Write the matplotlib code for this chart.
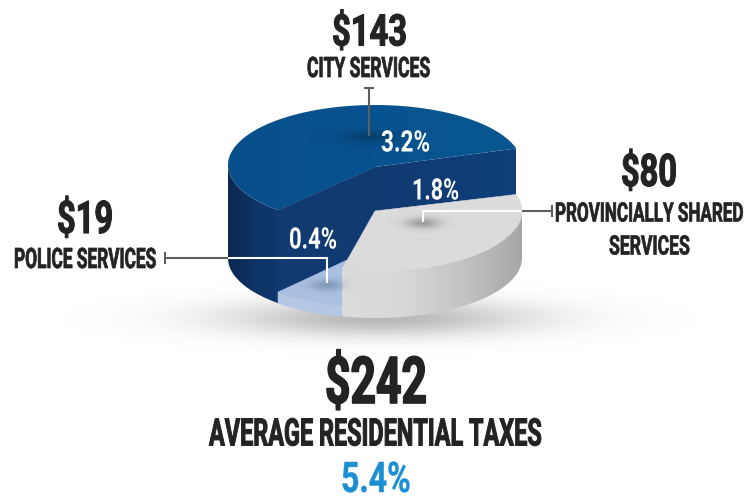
import numpy as np
import matplotlib
matplotlib.use("Agg")
import matplotlib.pyplot as plt
from matplotlib.colors import LinearSegmentedColormap, to_rgb
from matplotlib.patches import Polygon
from matplotlib.patheffects import AbstractPathEffect
from matplotlib.transforms import Affine2D

# ---- data ----
categories = ["CITY SERVICES", "PROVINCIALLY SHARED\nSERVICES", "POLICE SERVICES"]
amounts = [143, 80, 19]
percents = ["3.2%", "1.8%", "0.4%"]
total_amount = "$242"
total_label = "AVERAGE RESIDENTIAL TAXES"
total_percent = "5.4%"

W, H = 744, 496
fig = plt.figure(figsize=(W / 100, H / 100), dpi=100, facecolor="white")
ax = fig.add_axes([0, 0, 1, 1])
ax.set_axis_off()


class Squeeze(AbstractPathEffect):
    """Condense a text around a pivot, as the display face is condensed, and thicken it."""
    def __init__(self, sx, sy, pivot, base, stroke):
        super().__init__()
        self.sx, self.sy, self.pivot, self.base, self.stroke = sx, sy, pivot, base, stroke

    def draw_path(self, renderer, gc, tpath, affine, rgbFace=None):
        t = affine + (Affine2D().translate(-self.pivot, -self.base)
                      .scale(self.sx, self.sy).translate(self.pivot, self.base))
        gc0 = renderer.new_gc()
        gc0.copy_properties(gc)
        gc0.set_foreground(rgbFace)
        gc0.set_linewidth(self.stroke)
        renderer.draw_path(gc0, tpath, t, rgbFace)
        gc0.restore()


def label(s, xc, yc, cap, width, color="#232323", z=20, ha="center", shrink=1.0, heavy=0.026):
    """xc is the centre, left or right end of the text according to ha."""
    size = cap / 0.711 * 0.72 * shrink
    base = yc + cap / 2
    t = ax.text(xc, base, s, ha=ha, va="baseline", fontsize=size,
                family="Roboto", weight="bold", color=color, zorder=z)
    w = t.get_window_extent(fig.canvas.get_renderer()).width
    t.set_path_effects([Squeeze(width / w, 1 / shrink, xc, H - base, cap * heavy)])
    return t


# ---- pie geometry ----
CX, RX, RY = 375.0, 147.0, 60.0
FLOOR = 258.0
BLUE_H, GREY_H, LIGHT_H = 93.0, 47.0, 11.0
START = 16.0
total = sum(amounts)
sweep = [a / total * 360 for a in amounts]
g0, g1 = START, START - sweep[1]          # provincial, clockwise
l0, l1 = g1, g1 - sweep[2]                # police
b0, b1 = l1 + 360, START                  # city, counter-clockwise from start


def arc(a0, a1, cy, n=120):
    th = np.radians(np.linspace(a0, a1, n))
    return np.column_stack([CX + RX * np.cos(th), cy - RY * np.sin(th)])


def vgrad(poly, stops, x0, x1, z):
    cmap = LinearSegmentedColormap.from_list("g", stops)
    im = ax.imshow(np.linspace(0, 1, 256)[None, :], cmap=cmap, aspect="auto",
                   extent=(x0, x1, H, 0), zorder=z, interpolation="bilinear")
    im.set_clip_path(Polygon(poly, closed=True, transform=ax.transData))


def flat(poly, color, z):
    ax.add_patch(Polygon(poly, closed=True, fc=color, ec=color, lw=0.4, zorder=z))


def blob(x, y, rx, ry, color, alpha, z):
    xs = np.arange(x - 3 * rx, x + 3 * rx, 1.0)
    ys = np.arange(y - 3 * ry, y + 3 * ry, 1.0)
    X, Y = np.meshgrid(xs, ys)
    a = alpha * np.exp(-((X - x) / rx) ** 2 / 2 - ((Y - y) / ry) ** 2 / 2)
    img = np.zeros(X.shape + (4,))
    img[..., :3] = to_rgb(color)
    img[..., 3] = a
    ax.imshow(img, extent=(xs[0], xs[-1], ys[-1], ys[0]), aspect="auto", zorder=z,
              interpolation="bilinear")


# ground shadow
blob(380, 318, 105, 13, "#555555", 0.42, 1)

b_top = FLOOR - BLUE_H
g_top = FLOOR - GREY_H
l_top = FLOOR - LIGHT_H

# city: outer wall, cut walls, top
wall = np.vstack([arc(180, l1 + 360, b_top), arc(l1 + 360, 180, FLOOR)])
vgrad(wall, ["#0b2850", "#0f3467", "#113a70"], 228, 285, 3)
apex_t, apex_b = (CX, b_top + 2), (CX, FLOOR)
cut_l = np.vstack([arc(b0, b0, b_top, 1), [apex_t], [apex_b], arc(b0, b0, FLOOR, 1)])
flat(cut_l, "#113a70", 4)
cut_r = np.vstack([[apex_t], arc(START, START, b_top, 1), arc(START, START, FLOOR, 1), [apex_b]])
vgrad(cut_r, ["#113a70", "#103c75", "#0e4079"], 375, 516, 4)
top = np.vstack([[apex_t], arc(b0, b1, b_top)])
vgrad(top, ["#09508c", "#07538f", "#085790"], 228, 520, 5)

# police
wall = np.vstack([arc(l0, l1, l_top), arc(l1, l0, FLOOR)])
flat(wall, "#b4c7e3", 6)
flat(np.vstack([[(CX, l_top)], arc(l0, l1, l_top)]), "#a9c0e0", 7)

# provincial
wall = np.vstack([arc(max(g1, -180), 0, g_top), arc(0, g1, FLOOR)])
vgrad(wall, ["#dcdcdc", "#d8d8d8", "#c4c4c4", "#a6a6a6"], 342, 522, 8)
flat(np.vstack([[(CX, g_top)], arc(g0, g1, g_top)]), "#dbdbdc", 9)

# contact shadows under the leader ends
blob(369, 137, 20, 5, "#083258", 0.55, 10)
blob(423, 223, 12, 4, "#6a6a6a", 0.55, 10)
blob(327, 285, 11, 4, "#64799a", 0.55, 10)

# leaders
GRAY = "#5f5f5f"
def lead(xs, ys, c, lw=1.5, z=12):
    ax.plot(xs, ys, color=c, lw=lw, solid_capstyle="butt", solid_joinstyle="miter", zorder=z)

lead([369, 369], [88, 136], GRAY)
lead([364, 374], [88, 88], GRAY)
lead([423, 423, 522], [222, 211, 211], "white")
lead([522, 552], [211, 211], GRAY)
lead([552, 552], [205, 217], GRAY)
lead([165, 228], [258, 258], GRAY)
lead([165, 165], [252, 264], GRAY)
lead([228, 327, 327], [258, 258, 283], "white")

# texts
label(f"${amounts[0]}", 369.5, 30, 31, 75)
label(categories[0], 368.5, 67, 20, 123)
label(f"${amounts[1]}", 649, 170, 32, 56)
line1, line2 = categories[1].split("\n")
label(line1, 744, 212, 19, 189, ha="right")
label(line2, 649.5, 245, 19, 81)
label(f"${amounts[2]}", 85, 217, 32, 56)
label(categories[2], 14, 258, 20, 142, ha="left")
label(percents[0], 405.5, 141, 21, 49, color="white", heavy=0.0)
label(percents[1], 435.5, 189, 21, 47, color="white", heavy=0.0)
label(percents[2], 313, 238, 21, 48, color="white", heavy=0.0)
label(total_amount, 376, 380, 46, 102)
label(total_label, 375.5, 432, 27, 333)
label(total_percent, 376, 477, 30, 70, color="#1b8fd2", shrink=0.4, heavy=0.01)

ax.set_xlim(0, W)
ax.set_ylim(H, 0)
fig.savefig("out.png", dpi=100, facecolor="white")
